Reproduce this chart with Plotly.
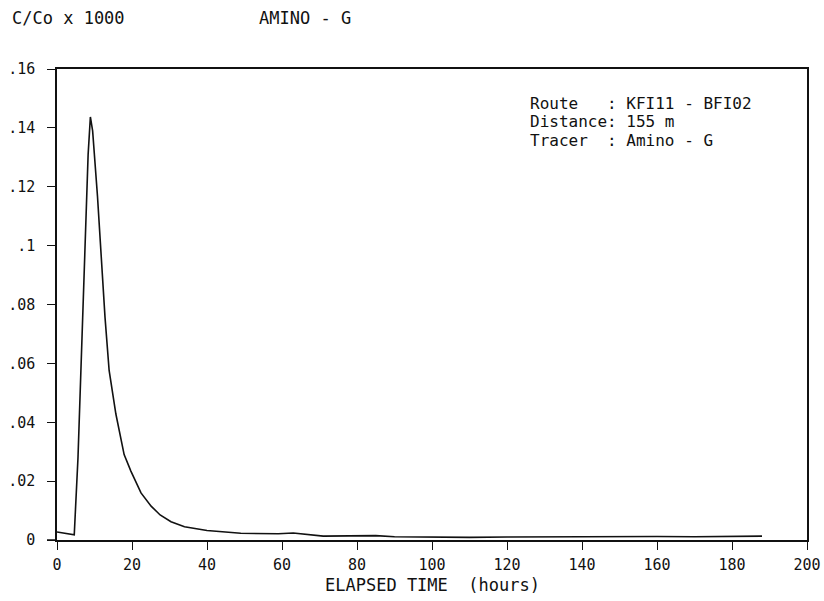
import plotly.graph_objects as go

# Breakthrough curve, route KFI11 - BFI02 (Amino - G tracer)
elapsed_hours = [0, 1, 2, 3, 4, 4.6, 5.6, 6.6, 7.6, 8.3, 8.9, 9.5, 10.8, 11.7,
                 12.8, 13.9, 15.7, 17.9, 19.7, 22.4, 25.1, 27.5, 30.4, 34, 40,
                 49, 59, 63, 67, 71, 78, 85, 90, 96, 102, 110, 120, 130, 140,
                 150, 160, 170, 180, 185, 188]
conc_ratio = [0.0027, 0.0025, 0.0023, 0.0021, 0.0019, 0.0018, 0.028, 0.064,
              0.103, 0.131, 0.1437, 0.139, 0.1167, 0.0985, 0.0757, 0.0576,
              0.0428, 0.029, 0.0234, 0.016, 0.0115, 0.0085, 0.0062, 0.0045,
              0.0032, 0.0023, 0.0021, 0.0024, 0.0018, 0.0013, 0.0014, 0.0015,
              0.0011, 0.0010, 0.0008, 0.0009, 0.0010, 0.0011, 0.0010, 0.0011,
              0.0012, 0.0011, 0.0012, 0.0015, 0.0013]

x_ticks = [0, 20, 40, 60, 80, 100, 120, 140, 160, 180, 200]
y_ticks = [0, 0.02, 0.04, 0.06, 0.08, 0.1, 0.12, 0.14, 0.16]
y_tick_text = ["0", ".02", ".04", ".06", ".08", ".1", ".12", ".14", ".16"]

info_lines = ["Route   : KFI11 - BFI02",
              "Distance: 155 m",
              "Tracer  : Amino - G"]

MONO = "DejaVu Sans Mono"
INK = "#111111"

fig = go.Figure()
fig.add_trace(go.Scatter(
    x=elapsed_hours, y=conc_ratio, mode="lines",
    line=dict(color=INK, width=1.6), showlegend=False, hoverinfo="skip",
))

W, H = 824, 601
L, R, T, B = 57, 17, 69, 61
plot_h = H - T - B


def py(pix):
    """Convert a pixel row to paper y."""
    return (H - B - pix) / plot_h


def px(pix):
    return (pix - L) / (W - L - R)


axis_style = dict(
    showgrid=False, zeroline=False, showline=True, linecolor=INK,
    linewidth=1.5, mirror=True, ticks="outside", ticklen=8, tickwidth=1.3,
    tickcolor=INK, automargin=False, tickfont=dict(family=MONO, size=15),
)

fig.update_layout(
    width=W, height=H,
    margin=dict(l=L, r=R, t=T, b=B),
    paper_bgcolor="white", plot_bgcolor="white",
    font=dict(family=MONO, color=INK, size=15),
    xaxis=dict(range=[0, 200], tickvals=x_ticks,
               ticktext=[str(v) for v in x_ticks], ticklabelstandoff=2,
               **axis_style),
    yaxis=dict(range=[0, 0.16], tickvals=y_ticks, ticktext=y_tick_text,
               ticklabelstandoff=9, **axis_style),
)

# short stub of the baseline running left past the origin
fig.add_shape(type="line", xref="paper", yref="paper", x0=px(47), x1=0,
              y0=0, y1=0, line=dict(color=INK, width=1.5))

annotations = [
    dict(text="C/Co x 1000", x=px(10), y=py(18), xanchor="left",
         yanchor="middle", font=dict(family=MONO, size=17)),
    dict(text="AMINO - G", x=px(257), y=py(18), xanchor="left",
         yanchor="middle", font=dict(family=MONO, size=17)),
    dict(text="ELAPSED TIME  (hours)", x=0.5, y=py(585), xanchor="center",
         yanchor="middle", font=dict(family=MONO, size=17)),
]
for i, line in enumerate(info_lines):
    annotations.append(dict(
        text=line.replace(" ", "&nbsp;"), x=px(528), y=py(103 + 18.5 * i),
        xanchor="left", yanchor="middle", font=dict(family=MONO, size=16),
    ))

for a in annotations:
    a.update(xref="paper", yref="paper", showarrow=False)
fig.update_layout(annotations=annotations)

fig.write_html("out.html")
